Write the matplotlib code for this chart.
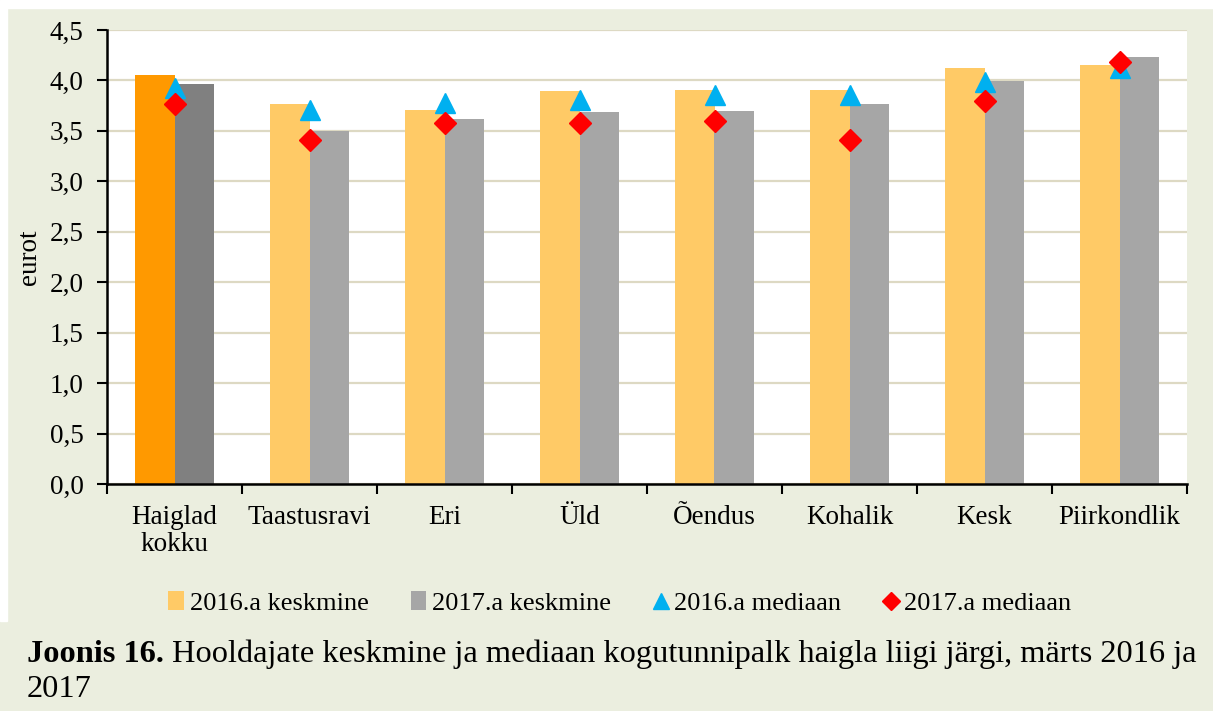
import matplotlib
matplotlib.use("Agg")
import matplotlib.pyplot as plt
from matplotlib.lines import Line2D
from matplotlib.patches import Patch, Rectangle
import numpy as np

categories = ["Haiglad\nkokku", "Taastusravi", "Eri", "Üld", "Õendus", "Kohalik", "Kesk", "Piirkondlik"]
mean_2016 = [4.05, 3.77, 3.71, 3.90, 3.91, 3.91, 4.12, 4.15]
mean_2017 = [3.96, 3.50, 3.62, 3.69, 3.70, 3.77, 3.99, 4.23]
median_2016 = [3.93, 3.71, 3.78, 3.81, 3.86, 3.86, 3.98, 4.12]
median_2017 = [3.77, 3.41, 3.58, 3.58, 3.60, 3.41, 3.80, 4.18]
y_ticks = [0.0, 0.5, 1.0, 1.5, 2.0, 2.5, 3.0, 3.5, 4.0, 4.5]
y_ticklabels = ["0,0", "0,5", "1,0", "1,5", "2,0", "2,5", "3,0", "3,5", "4,0", "4,5"]
legend_labels = ["2016.a keskmine", "2017.a keskmine", "2016.a mediaan", "2017.a mediaan"]
caption_bold = "Joonis 16."
caption_rest = " Hooldajate keskmine ja mediaan kogutunnipalk haigla liigi järgi, märts 2016 ja"
caption_line2 = "2017"

plt.rcParams['font.family'] = ['Liberation Serif', 'DejaVu Serif']

W, H = 1213, 711
BG = "#EBEEDF"
fig = plt.figure(figsize=(W / 100, H / 100), dpi=100, facecolor=BG)

# white margins
fig.patches.append(Rectangle((0, 1 - 8 / H), 1, 8 / H, transform=fig.transFigure, color="white", zorder=-1))
fig.patches.append(Rectangle((0, 1 - 621 / H), 7 / W, 621 / H, transform=fig.transFigure, color="white", zorder=-1))

left, right, top, bottom = 107, 1187, 30, 484
ax = fig.add_axes([left / W, 1 - bottom / H, (right - left) / W, (bottom - top) / H])
ax.set_facecolor("white")

n = len(categories)
x = np.arange(n)
w = 0.29
c16 = ["#FF9900"] + ["#FFCA66"] * (n - 1)
c17 = ["#808080"] + ["#A6A6A6"] * (n - 1)
ax.bar(x - w / 2, mean_2016, width=w, color=c16, zorder=2)
ax.bar(x + w / 2, mean_2017, width=w, color=c17, zorder=2)
ax.plot(x, median_2016, linestyle="none", marker="^", markersize=14, color="#00B0F0", zorder=3)
ax.plot(x, median_2017, linestyle="none", marker="D", markersize=11, color="#FF0000", zorder=4)

ax.set_xlim(-0.5, n - 0.5)
ax.set_ylim(0, 4.5)
ax.set_yticks(y_ticks)
ax.set_yticklabels(y_ticklabels, fontsize=19.5)
ax.yaxis.grid(True, color="#DDD9C3", linewidth=1.6, zorder=0)
ax.set_axisbelow(True)

ax.set_xticks(np.arange(n + 1) - 0.5)
ax.set_xticklabels([])
ax.set_xticks(x, minor=True)
ax.set_xticklabels(categories, minor=True, fontsize=19.5, linespacing=1.1, va="top")
ax.tick_params(axis="x", which="minor", length=0, pad=15)
ax.tick_params(axis="x", which="major", length=7, width=1.5, direction="out")
ax.tick_params(axis="y", length=7, width=1.5, direction="out", pad=10)

for s in ["top", "right"]:
    ax.spines[s].set_visible(False)
for s in ["left", "bottom"]:
    ax.spines[s].set_linewidth(1.8)
    ax.spines[s].set_color("black")

ax.set_ylabel("eurot", fontsize=19.5, labelpad=5)

handles = [
    Patch(facecolor="#FFCA66", edgecolor="none"),
    Patch(facecolor="#A6A6A6", edgecolor="none"),
    Line2D([], [], linestyle="none", marker="^", markersize=11, color="#00B0F0"),
    Line2D([], [], linestyle="none", marker="D", markersize=9, color="#FF0000"),
]
fig.legend(handles, legend_labels, loc="center", bbox_to_anchor=(620 / W, 1 - 603 / H),
           ncol=4, frameon=False, fontsize=19, handlelength=0.6, handleheight=0.7,
           handletextpad=0.2, columnspacing=1.6, borderaxespad=0)

t1 = fig.text(27 / W, 1 - 662 / H, caption_bold, fontsize=23.3, fontweight="bold", va="baseline", ha="left")
fig.canvas.draw()
bb = t1.get_window_extent()
fig.text(bb.x1 / W, 1 - 662 / H, caption_rest, fontsize=23.3, va="baseline", ha="left")
fig.text(27 / W, 1 - 697 / H, caption_line2, fontsize=23.3, va="baseline", ha="left")

fig.savefig("out.png", dpi=100, facecolor=BG)
